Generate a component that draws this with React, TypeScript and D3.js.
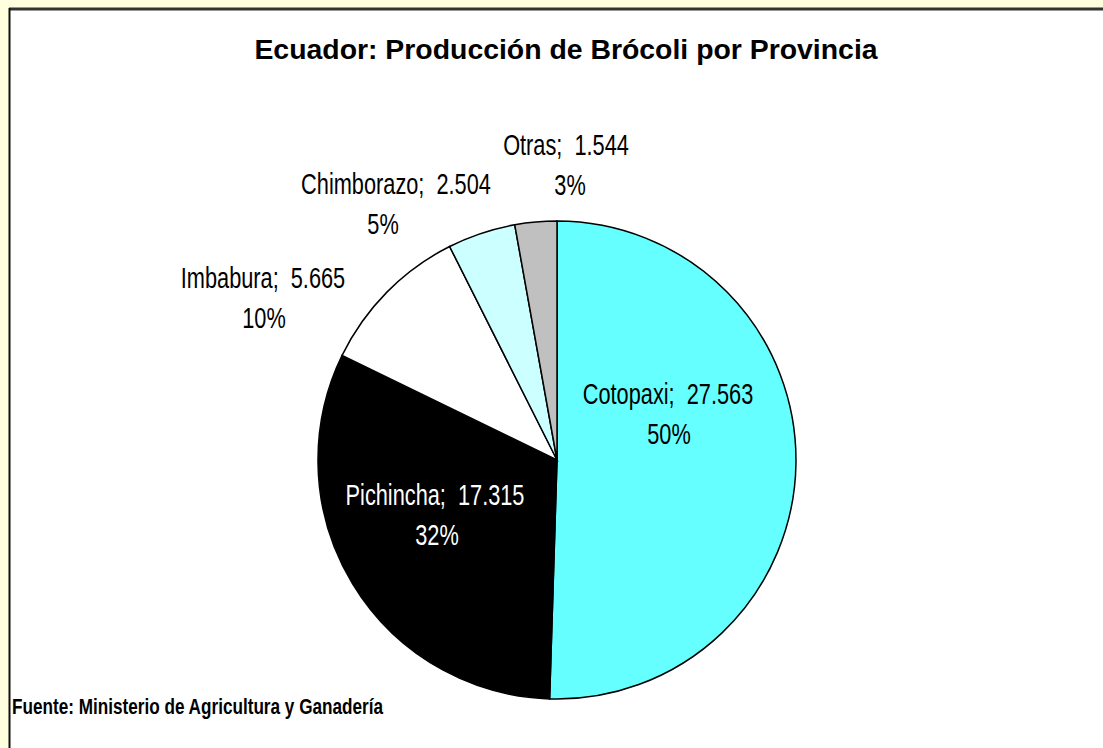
import React from "react";
import * as d3 from "d3";

const provinces = ["Cotopaxi", "Pichincha", "Imbabura", "Chimborazo", "Otras"];
const values = [27563, 17315, 5665, 2504, 1544];
const percents = ["50%", "32%", "10%", "5%", "3%"];
const valueLabels = ["27.563", "17.315", "5.665", "2.504", "1.544"];
const colors = ["#66FFFF", "#000000", "#FFFFFF", "#CCFFFF", "#C0C0C0"];
const textColors = ["#000", "#fff", "#000", "#000", "#000"];

// layout: [line1 centre x, line1 baseline, line2 centre x, line2 baseline]
const labelLayout: [number, number, number, number][] = [
  [668, 404, 669, 444],
  [435, 505, 437, 545],
  [263, 288, 264, 328],
  [396, 194, 383, 234],
  [566, 155, 570, 195],
];

const W = 1103;
const H = 748;
const cx = 557;
const cy = 460;
const R = 239;

const narrow = "'Liberation Sans', Arial, sans-serif";

function NText(props: { x: number; y: number; size: number; fill: string; bold?: boolean; anchor?: string; sx?: number; children: React.ReactNode }) {
  const sx = props.sx ?? 0.75;
  return (
    <text
      transform={`translate(${props.x},${props.y}) scale(${sx},1)`}
      fontFamily={narrow}
      fontSize={props.size}
      fontWeight={props.bold ? "bold" : "normal"}
      fill={props.fill}
      textAnchor={props.anchor ?? "middle"}
    >
      {props.children}
    </text>
  );
}

export default function App() {
  const pie = d3.pie<number>().sort(null).value((d) => d)(values);
  const arc = d3.arc<d3.PieArcDatum<number>>().innerRadius(0).outerRadius(R);
  return (
    <svg width={W} height={H} style={{ position: "absolute", left: 0, top: 0 }}>
      <rect x={0} y={0} width={W} height={H} fill="#FFFFE0" />
      <rect x={9} y={8} width={1200} height={H} fill="#fff" />
      <line x1={9} y1={9} x2={W} y2={9} stroke="#333" strokeWidth={3} />
      <line x1={9.5} y1={8} x2={9.5} y2={H} stroke="#111" strokeWidth={2} />
      <text x={566} y={59} textAnchor="middle" fontFamily="'Liberation Sans', Arial, sans-serif" fontWeight="bold" fontSize={28.4} fill="#000">
        Ecuador: Producción de Brócoli por Provincia
      </text>
      <g transform={`translate(${cx},${cy})`}>
        {pie.map((d, i) => (
          <path key={i} d={arc(d) || ""} fill={colors[i]} stroke="#000" strokeWidth={1.5} />
        ))}
      </g>
      {pie.map((d, i) => (
        <g key={"t" + i}>
          <NText x={labelLayout[i][0]} y={labelLayout[i][1]} size={29} fill={textColors[i]}>
            {`${provinces[i]};\u00A0 ${valueLabels[i]}`}
          </NText>
          <NText x={labelLayout[i][2]} y={labelLayout[i][3]} size={29} fill={textColors[i]}>
            {percents[i]}
          </NText>
        </g>
      ))}
      <NText x={12} y={714} size={22} bold fill="#000" anchor="start" sx={0.78}>
        Fuente: Ministerio de Agricultura y Ganadería
      </NText>
    </svg>
  );
}
